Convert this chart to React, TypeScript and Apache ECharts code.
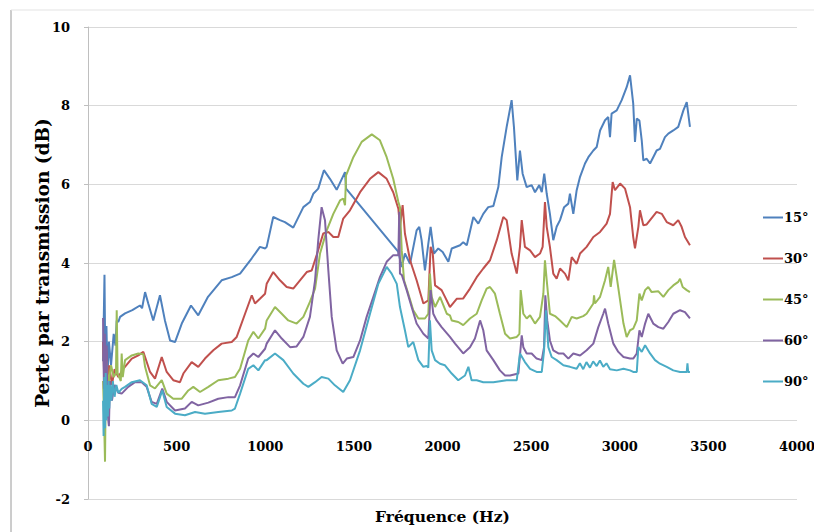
import React, { useEffect, useRef } from "react";
import * as echarts from "echarts";

const xTicks = [0, 500, 1000, 1500, 2000, 2500, 3000, 3500, 4000];
const yTicks = [-2, 0, 2, 4, 6, 8, 10];
const seriesNames = ["15°", "30°", "45°", "60°", "90°"];
const colors = ["#4F81BD", "#C0504D", "#9BBB59", "#8064A2", "#4BACC6"];

const s15 = [
  [85, 1.5], [93, 3.7], [98, 1.3], [104, 2.4], [110, 1.1], [118, 2.0], [130, 1.4], [145, 2.2], [155, 1.9],
  [162, 2.54], [171, 2.5], [181, 2.63], [209, 2.72], [250, 2.8], [293, 2.92], [305, 2.85], [322, 3.26],
  [340, 2.97], [368, 2.54], [406, 3.18], [434, 2.54], [463, 2.03], [491, 1.99], [529, 2.46], [581, 2.92],
  [622, 2.67], [677, 3.14], [754, 3.56], [811, 3.64], [858, 3.73], [924, 4.12], [970, 4.41], [1000, 4.37],
  [1008, 4.41], [1045, 5.17], [1083, 5.09], [1111, 5.04], [1158, 4.9], [1215, 5.42], [1252, 5.55],
  [1271, 5.76], [1299, 5.89], [1331, 6.36], [1365, 6.14], [1403, 5.86], [1450, 6.31], [1456, 5.89],
  [1751, 4.28], [1770, 3.9], [1788, 4.24], [1817, 3.98], [1854, 4.83], [1869, 4.92], [1882, 4.58],
  [1901, 3.81], [1920, 4.49], [1933, 4.92], [1952, 4.24], [1976, 4.37], [2001, 4.28], [2033, 4.03],
  [2052, 4.37], [2099, 4.45], [2117, 4.53], [2137, 4.45], [2174, 5.17], [2202, 5.0], [2230, 5.25],
  [2258, 5.42], [2287, 5.45], [2315, 5.93], [2334, 6.69], [2362, 7.46], [2390, 8.14], [2403, 7.46],
  [2422, 6.1], [2437, 6.86], [2452, 6.27], [2475, 5.93], [2503, 5.98], [2522, 5.8], [2546, 5.98],
  [2560, 5.8], [2574, 6.27], [2588, 5.76], [2606, 5.25], [2625, 4.58], [2644, 4.92], [2663, 5.09],
  [2686, 5.42], [2710, 5.51], [2719, 5.76], [2738, 5.25], [2757, 5.85], [2776, 6.19], [2804, 6.53],
  [2823, 6.69], [2851, 6.86], [2870, 6.95], [2889, 7.37], [2917, 7.63], [2935, 7.71], [2945, 7.2],
  [2954, 7.8], [2983, 7.88], [3011, 8.14], [3039, 8.47], [3058, 8.77], [3076, 8.05], [3086, 7.08],
  [3096, 7.67], [3111, 7.62], [3124, 7.12], [3133, 6.61], [3152, 6.65], [3171, 6.53], [3189, 6.69],
  [3208, 6.86], [3227, 6.9], [3255, 7.2], [3274, 7.29], [3302, 7.37], [3330, 7.46], [3359, 7.88],
  [3378, 8.09], [3396, 7.46],
];

const s30 = [
  [85, 2.0], [95, 0.6], [103, 1.8], [112, 0.8], [120, 1.4], [135, 0.9], [150, 1.3], [171, 1.1], [199, 1.31],
  [247, 1.57], [284, 1.65], [312, 1.74], [322, 1.61], [350, 1.23], [378, 1.06], [416, 1.61], [444, 1.23],
  [481, 1.02], [519, 0.97], [538, 1.19], [585, 1.48], [622, 1.36], [660, 1.57], [707, 1.78], [754, 1.95],
  [811, 1.99], [839, 2.12], [886, 2.71], [924, 3.18], [942, 2.97], [970, 3.09], [999, 3.22], [1008, 3.47],
  [1045, 3.77], [1083, 3.56], [1121, 3.39], [1158, 3.35], [1196, 3.56], [1234, 3.77], [1262, 3.81],
  [1290, 4.2], [1327, 4.75], [1356, 4.79], [1384, 4.66], [1412, 4.66], [1440, 5.13], [1478, 5.34],
  [1535, 5.8], [1591, 6.14], [1638, 6.31], [1685, 6.14], [1722, 5.8], [1751, 5.38], [1760, 4.92],
  [1775, 5.47], [1788, 4.75], [1817, 4.07], [1854, 3.56], [1892, 2.97], [1920, 3.05], [1933, 4.41],
  [1945, 4.24], [1958, 3.43], [1995, 3.31], [2014, 3.14], [2042, 2.88], [2080, 3.09], [2117, 3.1],
  [2155, 3.35], [2193, 3.64], [2230, 3.86], [2268, 4.07], [2306, 4.58], [2343, 5.17], [2362, 5.09],
  [2390, 4.24], [2419, 3.73], [2437, 4.41], [2447, 5.09], [2465, 4.41], [2494, 4.32], [2522, 4.15],
  [2550, 4.24], [2565, 4.41], [2578, 5.55], [2588, 4.92], [2606, 4.41], [2625, 3.73], [2644, 3.6],
  [2663, 3.86], [2691, 3.73], [2710, 3.56], [2729, 4.15], [2757, 3.98], [2776, 4.24], [2813, 4.41],
  [2851, 4.66], [2889, 4.79], [2926, 5.0], [2945, 5.25], [2960, 6.06], [2973, 5.85], [3002, 6.02],
  [3030, 5.89], [3058, 5.42], [3076, 4.66], [3086, 4.37], [3105, 4.92], [3114, 5.34], [3133, 4.96],
  [3152, 4.98], [3171, 5.09], [3208, 5.3], [3237, 5.25], [3265, 5.04], [3302, 4.96], [3330, 5.09],
  [3349, 4.92], [3368, 4.66], [3396, 4.45],
];

const s45 = [
  [85, 1.0], [90, 0.2], [96, -1.05], [100, 0.8], [105, 1.5], [115, 0.9], [130, 1.4], [145, 1.1], [158, 1.2],
  [162, 2.8], [167, 1.2], [185, 1.0], [190, 1.7], [196, 1.1], [209, 1.53], [247, 1.65], [284, 1.7],
  [312, 1.68], [322, 1.36], [350, 0.89], [378, 0.81], [416, 1.02], [444, 0.68], [481, 0.55], [529, 0.55],
  [566, 0.76], [594, 0.85], [632, 0.72], [679, 0.85], [735, 1.02], [792, 1.06], [829, 1.1], [858, 1.31],
  [904, 2.03], [933, 2.25], [961, 2.08], [999, 2.33], [1008, 2.54], [1055, 2.88], [1093, 2.71],
  [1130, 2.54], [1177, 2.46], [1215, 2.63], [1252, 3.01], [1281, 3.35], [1309, 4.24], [1347, 4.83],
  [1384, 5.25], [1422, 5.59], [1440, 5.64], [1450, 5.47], [1456, 6.23], [1497, 6.69], [1544, 7.08],
  [1601, 7.27], [1647, 7.12], [1685, 6.69], [1722, 6.14], [1751, 5.55], [1760, 5.42], [1770, 4.32],
  [1783, 3.56], [1807, 3.22], [1835, 2.8], [1864, 2.59], [1901, 2.59], [1920, 2.71], [1929, 3.73],
  [1939, 3.14], [1958, 2.88], [1986, 3.14], [2024, 2.71], [2042, 2.67], [2052, 2.54], [2089, 2.5],
  [2117, 2.42], [2155, 2.59], [2193, 2.71], [2221, 3.05], [2249, 3.35], [2268, 3.39], [2296, 3.22],
  [2324, 2.71], [2353, 2.2], [2381, 2.08], [2419, 2.12], [2434, 2.2], [2441, 3.31], [2456, 2.71],
  [2475, 2.59], [2494, 2.67], [2522, 2.46], [2550, 2.63], [2569, 3.22], [2578, 4.07], [2588, 3.56],
  [2606, 2.71], [2635, 2.65], [2663, 2.54], [2701, 2.37], [2729, 2.63], [2757, 2.59], [2794, 2.65],
  [2813, 2.71], [2851, 2.97], [2855, 3.18], [2860, 2.97], [2889, 3.14], [2917, 3.56], [2935, 3.9],
  [2949, 3.39], [2968, 4.08], [2983, 3.64], [3002, 3.05], [3021, 2.46], [3039, 2.12], [3058, 2.29],
  [3076, 2.33], [3096, 2.54], [3111, 3.22], [3124, 3.05], [3143, 3.31], [3161, 3.39], [3180, 3.26],
  [3218, 3.28], [3246, 3.14], [3274, 3.31], [3302, 3.43], [3330, 3.52], [3340, 3.6], [3355, 3.39],
  [3378, 3.31], [3396, 3.26],
];

const s60 = [
  [85, 2.6], [90, 0.8], [95, 2.2], [100, 0.3], [105, 1.9], [110, 0.2], [118, -0.15], [124, 1.0], [135, 0.5],
  [150, 0.9], [171, 0.7], [190, 0.68], [227, 0.85], [265, 0.97], [303, 0.97], [331, 0.85], [359, 0.47],
  [388, 0.42], [419, 0.81], [444, 0.47], [491, 0.25], [547, 0.3], [585, 0.47], [622, 0.38], [679, 0.45],
  [735, 0.55], [792, 0.59], [829, 0.59], [858, 0.89], [904, 1.57], [933, 1.7], [961, 1.61], [999, 1.82],
  [1008, 1.95], [1055, 2.29], [1093, 2.08], [1140, 1.86], [1177, 1.88], [1215, 2.12], [1252, 2.63],
  [1281, 3.56], [1299, 4.58], [1318, 5.42], [1337, 5.09], [1356, 3.81], [1375, 2.63], [1403, 1.78],
  [1437, 1.44], [1460, 1.57], [1497, 1.61], [1535, 2.03], [1572, 2.63], [1610, 3.14], [1647, 3.64],
  [1685, 4.03], [1722, 4.2], [1751, 4.2], [1756, 5.3], [1760, 3.73], [1770, 3.7], [1798, 3.31],
  [1826, 2.88], [1854, 2.46], [1892, 2.2], [1920, 2.08], [1933, 3.31], [1948, 2.71], [1967, 2.54],
  [1995, 2.37], [2042, 2.12], [2071, 1.95], [2117, 1.7], [2155, 1.86], [2183, 2.08], [2212, 2.54],
  [2230, 2.29], [2249, 1.78], [2287, 1.53], [2324, 1.27], [2353, 1.14], [2381, 1.14], [2428, 1.19],
  [2447, 2.16], [2456, 1.86], [2475, 1.7], [2503, 1.7], [2531, 1.57], [2560, 1.53], [2573, 1.86],
  [2580, 3.18], [2591, 2.54], [2606, 2.03], [2625, 1.78], [2654, 1.7], [2682, 1.7], [2710, 1.57],
  [2738, 1.7], [2776, 1.65], [2813, 1.78], [2851, 1.95], [2879, 2.37], [2907, 2.71], [2917, 2.84],
  [2935, 2.46], [2964, 1.95], [2992, 1.74], [3021, 1.61], [3058, 1.57], [3076, 1.57], [3096, 1.7],
  [3111, 2.29], [3124, 2.12], [3143, 2.46], [3161, 2.71], [3189, 2.46], [3218, 2.37], [3246, 2.33],
  [3274, 2.5], [3302, 2.71], [3340, 2.8], [3368, 2.75], [3396, 2.59],
];

const s90 = [
  [85, 0.5], [88, -0.4], [92, 1.1], [96, -0.2], [100, 1.2], [104, 0.0], [108, 0.9], [112, 0.1], [116, 1.0],
  [120, 0.3], [125, 0.9], [132, 0.5], [140, 1.0], [150, 0.6], [160, 0.9], [171, 0.7], [190, 0.8],
  [209, 0.85], [247, 0.97], [293, 1.02], [331, 0.89], [359, 0.42], [388, 0.34], [419, 0.76], [444, 0.34],
  [491, 0.17], [547, 0.13], [604, 0.21], [660, 0.17], [735, 0.21], [811, 0.25], [829, 0.3], [858, 0.68],
  [904, 1.31], [933, 1.4], [961, 1.27], [999, 1.53], [1008, 1.53], [1055, 1.7], [1102, 1.53], [1158, 1.19],
  [1215, 0.93], [1243, 0.85], [1281, 0.97], [1318, 1.1], [1356, 1.06], [1393, 0.89], [1440, 0.72],
  [1478, 1.02], [1535, 1.78], [1591, 2.71], [1638, 3.47], [1685, 3.9], [1713, 3.73], [1742, 3.47],
  [1760, 2.88], [1788, 2.29], [1807, 1.86], [1835, 1.99], [1864, 1.53], [1892, 1.36], [1911, 1.38],
  [1920, 1.34], [1929, 2.54], [1939, 1.78], [1958, 1.53], [1986, 1.44], [2014, 1.4], [2052, 1.19],
  [2089, 1.02], [2127, 1.14], [2146, 1.36], [2164, 1.02], [2193, 1.02], [2230, 0.97], [2287, 0.97],
  [2362, 1.02], [2419, 1.02], [2437, 1.7], [2465, 1.48], [2494, 1.31], [2531, 1.23], [2560, 1.23],
  [2573, 1.78], [2584, 2.8], [2597, 1.86], [2616, 1.61], [2644, 1.53], [2682, 1.4], [2719, 1.36],
  [2757, 1.31], [2775, 1.45], [2794, 1.3], [2812, 1.48], [2832, 1.34], [2850, 1.5], [2870, 1.38],
  [2888, 1.52], [2907, 1.36], [2925, 1.45], [2945, 1.3], [2983, 1.27], [3021, 1.31], [3058, 1.27],
  [3076, 1.23], [3096, 1.23], [3105, 1.86], [3124, 1.74], [3143, 1.91], [3171, 1.7], [3199, 1.53],
  [3227, 1.44], [3265, 1.36], [3302, 1.27], [3340, 1.23], [3378, 1.23], [3382, 1.45], [3386, 1.23],
  [3396, 1.23],
];

const allSeries = [s15, s30, s45, s60, s90];
const FONT = "DejaVu Serif";

export default function App() {
  const ref = useRef<HTMLDivElement>(null);
  useEffect(() => {
    if (!ref.current) return;
    const chart = echarts.init(ref.current, null, { renderer: "svg" });
    chart.setOption({
      animation: false,
      backgroundColor: "#ffffff",
      grid: { left: 88, right: 17, top: 27, bottom: 33, containLabel: false, outerBoundsMode: "none" },
      legend: {
        orient: "vertical",
        left: 758,
        top: 206,
        itemWidth: 20,
        itemHeight: 2,
        itemGap: 28,
        icon: "rect",
        data: seriesNames,
        textStyle: { fontFamily: FONT, fontSize: 13, fontWeight: "bold", color: "#000", padding: [0, 0, 0, -4] },
      },
      xAxis: {
        type: "value",
        position: "bottom",
        min: xTicks[0],
        max: xTicks[xTicks.length - 1],
        interval: 500,
        name: "Fréquence (Hz)",
        nameLocation: "middle",
        nameGap: 9,
        nameMoveOverlap: false,
        nameTextStyle: { fontFamily: FONT, fontSize: 15.5, fontWeight: "bold", color: "#000", verticalAlign: "top" },
        axisLine: { show: false, onZero: false },
        axisTick: { show: false },
        splitLine: { show: false },
        axisLabel: {
          fontFamily: FONT, fontSize: 13, fontWeight: "bold", color: "#000", margin: -59,
          formatter: (v: number) => String(v),
        },
      },
      yAxis: {
        type: "value",
        min: yTicks[0],
        max: yTicks[yTicks.length - 1],
        interval: 2,
        name: "Perte par transmission (dB)",
        nameLocation: "middle",
        nameGap: 36,
        nameMoveOverlap: false,
        nameTextStyle: { fontFamily: FONT, fontSize: 18.5, fontWeight: "bold", color: "#000" },
        axisLine: { show: true, onZero: false, lineStyle: { color: "#bfbfbf", width: 1 } },
        axisTick: { show: true, length: 4, lineStyle: { color: "#bfbfbf" } },
        splitLine: { show: true, lineStyle: { color: "#d9d9d9", width: 1 } },
        axisLabel: {
          fontFamily: FONT, fontSize: 13, fontWeight: "bold", color: "#000", margin: 18,
          formatter: (v: number) => String(v),
        },
      },
      graphic: [
        { type: "line", shape: { x1: 11, y1: 10, x2: 11, y2: 532 }, style: { stroke: "#9a9a9a", lineWidth: 1 } },
        { type: "line", shape: { x1: 11, y1: 10, x2: 814, y2: 10 }, style: { stroke: "#e3e3e3", lineWidth: 1 } },
      ],
      series: allSeries.map((d, i) => ({
        name: seriesNames[i],
        type: "line",
        data: d,
        showSymbol: false,
        symbol: "none",
        color: colors[i],
        lineStyle: { width: 2, color: colors[i] },
      })),
    });
    return () => chart.dispose();
  }, []);
  return <div ref={ref} style={{ width: 814, height: 532, position: "absolute", left: 0, top: 0 }} />;
}
